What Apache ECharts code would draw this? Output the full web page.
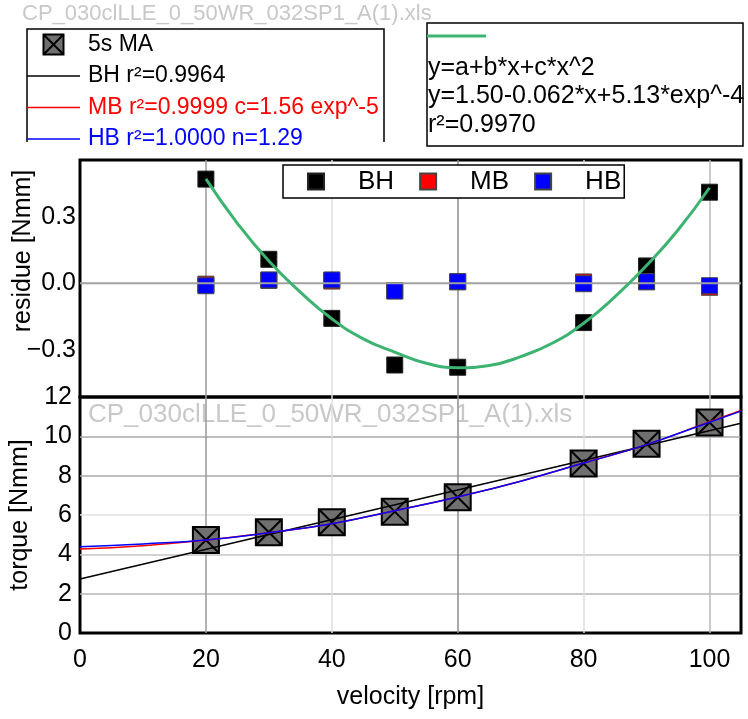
<!DOCTYPE html>
<html>
<head>
<meta charset="utf-8">
<script src="https://cdn.jsdelivr.net/npm/echarts@6/dist/echarts.min.js"></script>
<style>
  html, body { margin: 0; padding: 0; background: #fff; }
  #chart { width: 748px; height: 719px; }
</style>
</head>
<body>
<div id="chart"></div>
<script>
// measured velocities and 5-second moving-average torque
const velocity = [20, 30, 40, 50, 60, 80, 90, 100];
const torqueMA = [4.73, 5.12, 5.63, 6.17, 6.90, 8.62, 9.62, 10.70];

// residues of the three rheological fits
const residueBH = [0.469, 0.108, -0.158, -0.368, -0.378, -0.177, 0.078, 0.410];
const residueMB = [-0.004, 0.013, 0.010, -0.033, 0.007, 0.006, 0.007, -0.018];
const residueHB = [-0.011, 0.015, 0.015, -0.035, 0.007, -0.002, 0.007, -0.011];

// quadratic trend through the Bingham residues
const trendX = [20, 25, 30, 35, 40, 45, 50, 55, 60, 65, 70, 75, 80, 85, 90, 95, 100];
const trendY = [0.47, 0.27, 0.10, -0.04, -0.16, -0.25, -0.31, -0.36, -0.38, -0.37, -0.33, -0.27, -0.18, -0.06, 0.08, 0.24, 0.43];

// fitted flow curves
const fitBHx = [0, 105];
const fitBHy = [2.75, 10.67];
const fitCurveX = [0, 10, 20, 30, 40, 50, 60, 70, 80, 90, 100, 105];
const fitMB = [4.27, 4.44, 4.72, 5.10, 5.56, 6.22, 6.92, 7.72, 8.64, 9.58, 10.74, 11.31];
const fitHB = [4.38, 4.53, 4.73, 5.10, 5.56, 6.22, 6.92, 7.72, 8.64, 9.58, 10.72, 11.28];

// axis ticks
const xTicks = [0, 20, 40, 60, 80, 100];
const residueTicks = [-0.3, 0, 0.3];
const torqueTicks = [0, 2, 4, 6, 8, 10, 12];

// text
const fileName = 'CP_030clLLE_0_50WR_032SP1_A(1).xls';
const nameMA = '5s MA';
const nameBHfit = 'BH r\u00b2=0.9964';
const nameMBfit = 'MB r\u00b2=0.9999 c=1.56 exp^-5';
const nameHBfit = 'HB r\u00b2=1.0000 n=1.29';
const trendName = 'quadratic trend';
const trendLines = ['y=a+b*x+c*x^2', 'y=1.50-0.062*x+5.13*exp^-4', 'r\u00b2=0.9970'];

const FONT = '"Liberation Sans", Arial, sans-serif';
const zip = (xs, ys) => xs.map((x, i) => [x, ys[i]]);

const chart = echarts.init(document.getElementById('chart'), null, { renderer: 'canvas' });

const xGridColors = ['#9a9a9a', '#dedede', '#8c8c8c', '#dedede', '#b8b8b8', '#000'];
const yGridColors = ['#b4b4b4', '#c4c4c4', '#e2e2e2', '#a8a8a8', '#a8a8a8'];

// square with a cross for the averaged torque marks
const boxSymbol = 'path://M0,0H20V20H0Z M0,0L20,20 M20,0L0,20';
// thin bar used as the legend key of the fitted lines
const thinLineIcon = 'path://M0,0H53V1.5H0Z';
const thickLineIcon = 'path://M0,0H59V3H0Z';

const option = {
  backgroundColor: '#fff',
  animation: false,
  textStyle: { fontFamily: FONT, color: '#000' },
  grid: [
    { left: 80, top: 160, width: 661, height: 237, show: true, borderColor: '#000', borderWidth: 3, backgroundColor: 'transparent' },
    { left: 80, top: 397, width: 661, height: 236, show: true, borderColor: '#000', borderWidth: 3, backgroundColor: 'transparent' }
  ],
  xAxis: [
    {
      gridIndex: 0, type: 'value', min: 0, max: 105, interval: 20,
      axisLine: { show: false }, axisTick: { show: false }, axisLabel: { show: false },
      splitLine: { show: true, showMinLine: false, showMaxLine: true, lineStyle: { color: xGridColors, width: 1.5 } }
    },
    {
      gridIndex: 1, type: 'value', min: 0, max: 105, interval: 20,
      axisLine: { show: false }, axisTick: { show: false },
      axisLabel: {
        fontSize: 25, color: '#000', margin: 15, fontFamily: FONT,
        formatter: v => (xTicks.includes(v) ? String(v) : '')
      },
      splitLine: { show: true, showMinLine: false, showMaxLine: true, lineStyle: { color: xGridColors, width: 1.5 } },
      name: 'velocity [rpm]', nameLocation: 'middle', nameGap: 52,
      nameTextStyle: { fontSize: 25, color: '#000', fontFamily: FONT }
    }
  ],
  yAxis: [
    {
      gridIndex: 0, type: 'value', min: -0.512, max: 0.555,
      axisLine: { show: false }, axisTick: { show: false }, splitLine: { show: false },
      axisLabel: {
        customValues: residueTicks, fontSize: 25, color: '#000', margin: 4, fontFamily: FONT,
        formatter: v => (v < -1e-9 ? '\u2212' : '') + Math.abs(v).toFixed(1)
      }
    },
    {
      gridIndex: 1, type: 'value', min: 0, max: 12, interval: 2,
      axisLine: { show: false }, axisTick: { show: false },
      axisLabel: {
        fontSize: 25, color: '#000', margin: 8, fontFamily: FONT,
        formatter: v => (torqueTicks.includes(v) ? String(v) : '')
      },
      splitLine: { show: true, showMinLine: false, showMaxLine: false, lineStyle: { color: yGridColors, width: 1.5 } },
      name: 'torque [Nmm]', nameLocation: 'middle', nameGap: 47,
      nameTextStyle: { fontSize: 25, color: '#000', fontFamily: FONT }
    }
  ],
  legend: [
    {
      data: [
        { name: nameMA, textStyle: { color: '#000' } },
        { name: nameBHfit, icon: thinLineIcon, textStyle: { color: '#000' } },
        { name: nameMBfit, icon: thinLineIcon, textStyle: { color: '#ff0000' } },
        { name: nameHBfit, icon: thinLineIcon, textStyle: { color: '#0000ff' } }
      ],
      left: 27, top: 33, orient: 'vertical', padding: 0,
      itemWidth: 53, itemHeight: 20, itemGap: 8.5,
      textStyle: { fontSize: 23, fontFamily: FONT, padding: [0, 0, 0, 3] },
      selectedMode: false
    },
    {
      data: ['BH', 'MB', 'HB'],
      left: 283, top: 165, orient: 'horizontal',
      padding: [3.5, 3, 3.5, 24],
      itemWidth: 16, itemHeight: 16, itemGap: 25,
      borderColor: '#000', borderWidth: 1.5, backgroundColor: '#fff',
      textStyle: { fontSize: 26, lineHeight: 26, fontFamily: FONT, color: '#000', padding: [0, 0, 0, 29] },
      selectedMode: false
    },
    {
      data: [{ name: trendName, icon: thickLineIcon }],
      left: 427, top: 26, padding: 0,
      itemWidth: 59, itemHeight: 20,
      formatter: () => '',
      selectedMode: false
    }
  ],
  graphic: [
    { type: 'text', left: 22, top: 3, silent: true,
      style: { text: fileName, font: '22px ' + FONT, fill: '#c8c8c8' } },
    { type: 'polyline', silent: true,
      shape: { points: [[27, 142], [27, 29], [384, 29], [384, 142]] },
      style: { stroke: '#000', lineWidth: 1.5, fill: null } },
    { type: 'rect', silent: true,
      shape: { x: 427, y: 23, width: 316, height: 123 },
      style: { stroke: '#000', lineWidth: 1.5, fill: null } },
    { type: 'text', x: 428, y: 68, silent: true,
      style: { text: trendLines[0], font: '25px ' + FONT, fill: '#000', verticalAlign: 'middle' } },
    { type: 'text', x: 428, y: 96, silent: true,
      style: { text: trendLines[1], font: '25px ' + FONT, fill: '#000', verticalAlign: 'middle' } },
    { type: 'text', x: 428, y: 125, silent: true,
      style: { text: trendLines[2], font: '25px ' + FONT, fill: '#000', verticalAlign: 'middle' } },
    { type: 'text', x: 23, y: 251, rotation: Math.PI / 2, silent: true,
      style: { text: 'residue [Nmm]', font: '25px ' + FONT, fill: '#000', align: 'center', verticalAlign: 'middle' } },
    { type: 'text', left: 88, top: 402, silent: true, z: 0,
      style: { text: fileName, font: '26px ' + FONT, fill: '#c8c8c8' } }
  ],
  series: [
    {
      name: 'zero line', type: 'line', xAxisIndex: 0, yAxisIndex: 0,
      data: [[0, 0], [105, 0]], symbol: 'none', silent: true,
      lineStyle: { color: '#a0a0a0', width: 2 }
    },
    {
      name: 'BH', type: 'scatter', xAxisIndex: 0, yAxisIndex: 0,
      data: zip(velocity, residueBH), symbol: 'rect', symbolSize: 16,
      itemStyle: { color: '#000', borderColor: '#222', borderWidth: 1, opacity: 1 }
    },
    {
      name: 'MB', type: 'scatter', xAxisIndex: 0, yAxisIndex: 0,
      data: zip(velocity, residueMB), symbol: 'rect', symbolSize: 16,
      itemStyle: { color: '#ff0000', borderColor: '#444', borderWidth: 1, opacity: 1 }
    },
    {
      name: 'HB', type: 'scatter', xAxisIndex: 0, yAxisIndex: 0,
      data: zip(velocity, residueHB), symbol: 'rect', symbolSize: 16,
      itemStyle: { color: '#0000ff', borderColor: '#444', borderWidth: 1, opacity: 1 }
    },
    {
      name: trendName, type: 'line', xAxisIndex: 0, yAxisIndex: 0,
      data: zip(trendX, trendY), smooth: true, symbol: 'none',
      color: '#3cb371', lineStyle: { color: '#3cb371', width: 3 }
    },
    {
      name: nameMA, type: 'scatter', xAxisIndex: 1, yAxisIndex: 1,
      data: zip(velocity, torqueMA), symbol: boxSymbol, symbolSize: 26, symbolKeepAspect: true,
      itemStyle: { color: '#707070', borderColor: '#000', borderWidth: 2, opacity: 1 }
    },
    {
      name: nameBHfit, type: 'line', xAxisIndex: 1, yAxisIndex: 1,
      data: zip(fitBHx, fitBHy), symbol: 'none',
      color: '#000', lineStyle: { color: '#000', width: 1.5 }
    },
    {
      name: nameMBfit, type: 'line', xAxisIndex: 1, yAxisIndex: 1,
      data: zip(fitCurveX, fitMB), smooth: true, symbol: 'none',
      color: '#ff0000', lineStyle: { color: '#ff0000', width: 1.5 }
    },
    {
      name: nameHBfit, type: 'line', xAxisIndex: 1, yAxisIndex: 1,
      data: zip(fitCurveX, fitHB), smooth: true, symbol: 'none',
      color: '#0000ff', lineStyle: { color: '#0000ff', width: 1.5 }
    }
  ]
};

chart.setOption(option);
</script>
</body>
</html>
